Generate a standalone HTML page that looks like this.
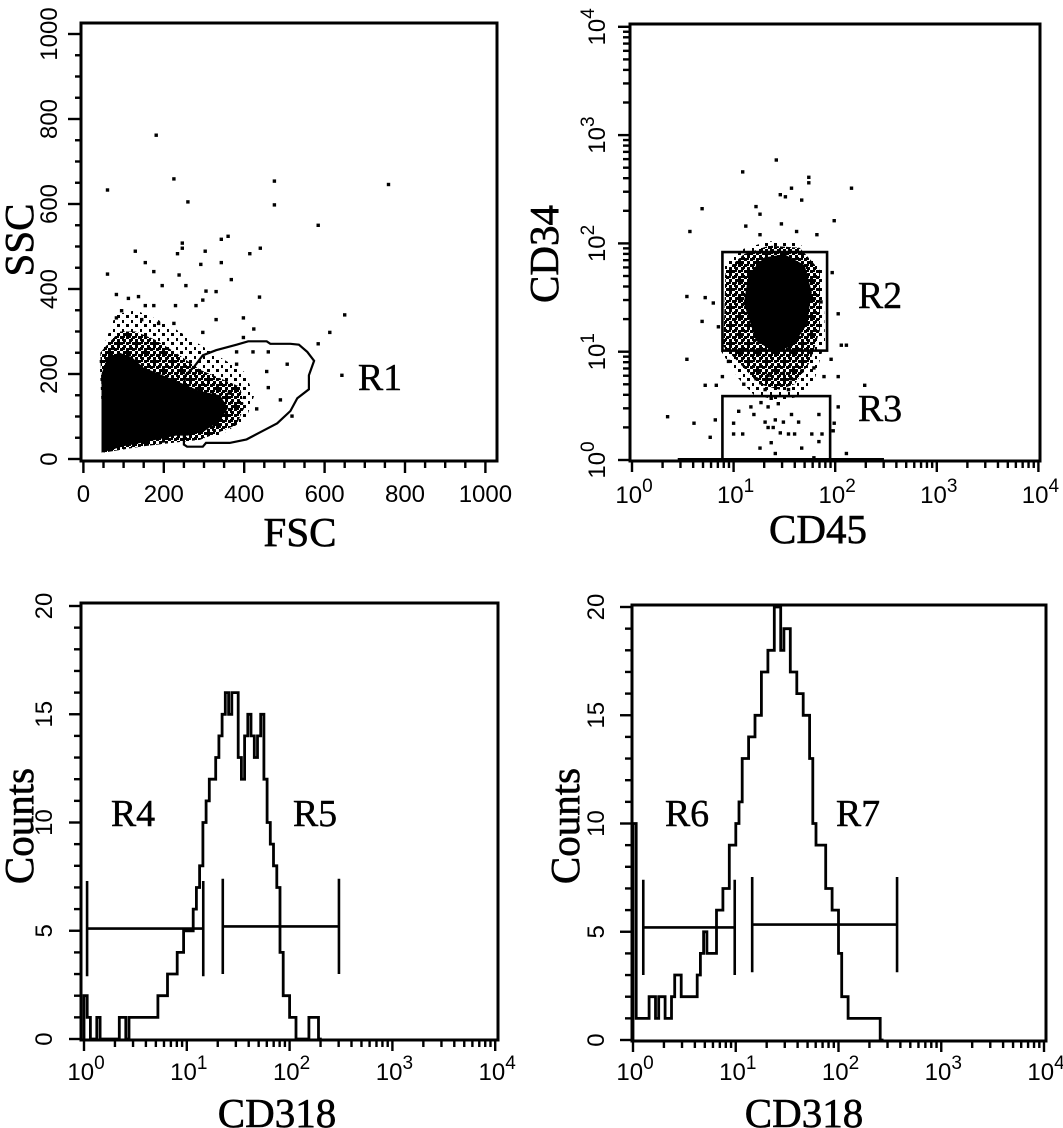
<!DOCTYPE html>
<html><head><meta charset="utf-8"><style>
html,body{margin:0;padding:0;background:#fff;}
svg{display:block;}
.tk{font-family:"Liberation Sans",sans-serif;font-size:24px;fill:#000;}
.ttl{font-family:"Liberation Serif",serif;font-size:41px;fill:#000;stroke:#000;stroke-width:0.6;}
.rl{font-family:"Liberation Serif",serif;font-size:38px;fill:#000;stroke:#000;stroke-width:0.4;}
</style></head><body>
<svg id="fig" width="1063" height="1128" viewBox="0 0 1063 1128" xmlns="http://www.w3.org/2000/svg">
<defs>
<pattern id="halo" width="6" height="6" patternUnits="userSpaceOnUse"><rect x="0" y="0" width="3" height="3" fill="#000"/><rect x="3" y="3" width="3" height="3" fill="#000"/><rect x="3" y="0" width="2" height="2" fill="#000"/></pattern>
<pattern id="sparse" width="9" height="9" patternUnits="userSpaceOnUse"><rect x="0" y="0" width="3" height="3" fill="#000"/><rect x="5" y="5" width="2" height="3" fill="#000"/></pattern>
</defs>
<g id="root"></g>
</svg>
<script>
// ---------- DATA ----------
// Panel A: FSC vs SSC (linear 0-1000)
const p1Outliers = [[181,762],[225,659],[60,633],[260,605],[475,654],[475,598],[759,646],[584,550],[650,339],[613,298],[584,271],[643,197],[60,435],[129,489],[154,462],[175,441],[246,508],[246,496],[234,483],[303,489],[343,517],[360,524],[414,483],[440,496],[438,381],[424,306],[398,332],[368,422],[343,462],[330,394],[305,395],[292,458],[238,433],[255,408],[196,408],[82,387],[112,378],[137,382],[154,361],[175,361],[229,361],[280,361],[297,374],[330,328],[225,319],[297,298],[507,223],[490,139],[519,101],[431,118],[460,168],[456,206],[422,252],[460,252],[398,286],[82,332],[95,349],[145,328],[187,319],[381,252],[381,223],[363,155]];
const p1Core = [[45,15],[100,30],[180,45],[230,55],[260,55],[300,65],[340,90],[360,120],[340,150],[290,160],[240,180],[190,200],[150,215],[120,240],[90,250],[60,240],[45,200]];
const p1Halo = [[42,250],[60,270],[90,300],[130,300],[180,280],[230,250],[290,210],[340,190],[390,170],[400,120],[380,80],[330,60],[290,45],[240,40],[150,30],[50,15]];
const p1Outer = [[40,240],[60,290],[80,340],[130,350],[180,330],[230,305],[280,275],[330,245],[400,205],[425,150],[405,95],[345,58],[290,48],[240,43],[150,33],[50,15]];
const gateR1 = [[250,34],[258,29],[297,29],[305,38],[364,38],[406,46],[440,63],[482,84],[515,113],[532,143],[561,164],[561,197],[574,231],[557,252],[536,269],[515,271],[465,271],[456,277],[410,277],[381,269],[330,256],[297,244],[276,218],[254,197],[246,155],[246,88],[250,55]];
const p1Ticks = [0,200,400,600,800,1000];
// Panel B: CD45 vs CD34 (log decades)
const p2Points = [[1.42,2.77],[1.09,2.66],[1.74,2.61],[1.74,2.56],[1.57,2.51],[1.46,2.45],[1.51,2.43],[2.16,2.51],[0.69,2.32],[1.22,2.34],[1.26,2.27],[1.67,2.4],[1.99,2.21],[0.57,2.11],[1.12,2.16],[1.47,2.18],[1.62,2.11],[1.82,2.08],[1.26,2.08],[0.54,1.51],[0.72,1.5],[0.8,1.45],[0.69,1.28],[0.85,1.23],[1.97,1.73],[1.86,1.46],[2.03,1.35],[2.06,1.06],[2.11,1.06],[0.54,0.93],[1.96,0.93],[2.03,0.77],[1.89,0.77],[2.29,0.69],[0.72,0.69],[0.83,0.69],[0.89,0.77],[0.95,0.91],[1.1,0.7],[1.22,0.75],[1.34,0.78],[1.49,0.8],[1.57,0.75],[1.67,0.82],[1.79,0.85],[1.31,0.65],[1.54,0.65],[0.35,0.4],[0.61,0.34],[0.82,0.37],[0.77,0.21],[2.11,0.06],[2.03,0.49],[1.99,0.34],[1.98,0.27],[1.0,0.34],[1.09,0.24],[1.0,0.24],[1.05,0.45],[1.17,0.49],[1.2,0.42],[1.27,0.53],[1.34,0.49],[1.31,0.35],[1.41,0.37],[1.49,0.35],[1.57,0.42],[1.64,0.35],[1.84,0.42],[1.46,0.25],[1.54,0.24],[1.6,0.24],[1.77,0.24],[1.84,0.17],[1.87,0.24],[1.26,0.11],[1.37,0.16],[1.41,0.06],[1.67,0.11],[1.79,0.02],[1.34,0.3],[1.39,0.3],[1.44,0.52],[1.37,0.57]];
const p2Core = [[1.1,1.45],[1.15,1.72],[1.3,1.87],[1.5,1.9],[1.7,1.8],[1.77,1.55],[1.72,1.25],[1.58,1.05],[1.4,1.0],[1.22,1.1]];
const p2Halo = [[0.9,1.05],[0.92,1.75],[1.1,1.9],[1.35,1.98],[1.65,1.96],[1.85,1.75],[1.85,1.2],[1.75,0.9],[1.6,0.7],[1.45,0.65],[1.25,0.7],[1.1,0.85]];
const p2Outer = [[0.88,1.0],[0.9,1.8],[1.1,1.95],[1.35,2.02],[1.65,2.0],[1.88,1.75],[1.9,1.1],[1.8,0.75],[1.62,0.58],[1.45,0.55],[1.2,0.6],[1.05,0.75]];
const gateR2 = [0.89,1.92,1.01,1.92]; // xmin,xmax,ymin,ymax (decades)
const gateR3 = [0.89,1.95,0,0.59];
const logTicks = [0,1,2,3,4];
// Panel C: CD318 histogram (32 bins per decade)
const hist3 = [2,1,0,0,1,0,0,0,0,0,0,1,1,0,1,1,1,1,1,1,1,1,1,2,2,2,3,3,3,4,4,5,5,5,6,7,8,10,11,12,12,13,14,15,16,15,16,16,13,12,14,15,14,13,14,15,12,10,9,8,7,4,2,2,1,1,0,0,0,0,1,1,1,0];
const gatesC = [[0.03,1.16,5.1],[1.35,2.48,5.2]];
// Panel D: CD318 histogram
const hist4 = [10,1,1,1,1,2,2,1,2,2,1,1,2,3,3,2,2,2,2,2,3,4,5,4,4,4,6,6,7,7,9,9,10,11,13,13,14,14,15,15,17,17,18,18,20,20,18,19,19,17,17,16,16,15,15,13,10,9,9,9,7,7,6,6,4,2,2,1,1,1,1,1,1,1,1,1,1,0];
const gatesD = [[0.1,0.99,5.2],[1.16,2.57,5.33]];
const countTicks = [0,5,10,15,20];

// ---------- DRAW ----------
const NS='http://www.w3.org/2000/svg';
const root=document.getElementById('root');
function mk(tag,attrs,parent){const e=document.createElementNS(NS,tag);for(const k in attrs)e.setAttribute(k,attrs[k]);(parent||root).appendChild(e);return e;}
function grp(name){const g=mk('g',{});


return g;}

const A={bx0:81,bx1:497,by0:23,by1:461,xs:v=>83.4+0.402*v,ys:v=>459-0.425*v};
const B={bx0:630,bx1:1040,by0:24,by1:461,xs:d=>632+101.6*d,ys:d=>460-108.3*d};
const C={bx0:81,bx1:498,by0:603,by1:1040,xs:d=>84+102.8*d,ys:c=>1039-21.65*c};
const D={bx0:632,bx1:1046,by0:605,by1:1041,xs:d=>633+102.75*d,ys:c=>1040-21.65*c};

function frame(P,name){const g=grp(name);
mk('rect',{x:P.bx0,y:P.by0,width:P.bx1-P.bx0,height:P.by1-P.by0,fill:'none',stroke:'#000','stroke-width':3},g);return g;}
function poly(pts,P,fill,g){return mk('polygon',{points:pts.map(p=>P.xs(p[0]).toFixed(1)+','+P.ys(p[1]).toFixed(1)).join(' '),fill:fill,stroke:'none'},g);}
function dots(pts,P,g){pts.forEach(p=>{const r=mk('rect',{x:(P.xs(p[0])-1.7).toFixed(1),y:(P.ys(p[1])-1.7).toFixed(1),width:3.4,height:3.4,fill:'#000'},g);

});}
function rotLabel(txt,x,y,cls,g,name){const t=mk('text',{x:x,y:y,'text-anchor':'middle',transform:`rotate(-90 ${x} ${y})`,class:cls},g);t.textContent=txt;


return t;}
function label(txt,x,y,cls,g,name,anchor){const t=mk('text',{x:x,y:y,'text-anchor':anchor||'middle',class:cls},g);t.textContent=txt;


return t;}
function powLabel(n,x,y,g,rot,name){const t=mk('text',{x:x,y:y,'text-anchor':'middle',class:'tk'},g);
if(rot)t.setAttribute('transform',`rotate(-90 ${x} ${y})`);


const a=mk('tspan',{},t);a.textContent='10';const b=mk('tspan',{dy:-11,'font-size':19},t);b.textContent=String(n);}
function logXTicks(P,y,g){for(let d=0;d<4;d++){for(let m=1;m<10;m++){const x=P.xs(d+Math.log10(m));mk('line',{x1:x,x2:x,y1:y,y2:y+(m==1?11:7),stroke:'#000','stroke-width':2.4},g);}}
const x=P.xs(4);mk('line',{x1:x,x2:x,y1:y,y2:y+11,stroke:'#000','stroke-width':2.4},g);}

// ===== Panel A =====
{const g=frame(A,'fsc-ssc-dotplot');
poly(p1Outer,A,'url(#sparse)',g);
poly(p1Halo,A,'url(#halo)',g);
poly(p1Core,A,'#000',g);
dots(p1Outliers,A,g);
const gate=poly(gateR1,A,'none',g);gate.setAttribute('stroke','#000');gate.setAttribute('stroke-width','2.2');


for(let v=0;v<=1000;v+=50){const y=A.ys(v);mk('line',{x1:v%200==0?68:75,x2:A.bx0,y1:y,y2:y,stroke:'#000','stroke-width':2.4},g);
const x=A.xs(v);mk('line',{x1:x,x2:x,y1:A.by1,y2:A.by1+(v%200==0?12:7),stroke:'#000','stroke-width':2.4},g);}
p1Ticks.forEach(v=>{label(String(v),A.xs(v),502,'tk',g,'x-tick-label');rotLabel(String(v),57,A.ys(v),'tk',g,'y-tick-label');});
label('FSC',300,546,'ttl',g,'x-axis-title');
rotLabel('SSC',33,240,'ttl',g,'y-axis-title');
label('R1',380,390,'rl',g,'gate-label-r1');}

// ===== Panel B =====
{const g=frame(B,'cd45-cd34-dotplot');
poly(p2Outer,B,'url(#sparse)',g);poly(p2Halo,B,'url(#halo)',g);poly(p2Core,B,'#000',g);
dots(p2Points,B,g);
mk('line',{x1:B.xs(0.45),x2:B.xs(2.48),y1:B.by1-1,y2:B.by1-1,stroke:'#000','stroke-width':4},g);
[[gateR2,'gate-r2'],[gateR3,'gate-r3']].forEach(([q,n])=>{const r=mk('rect',{x:B.xs(q[0]),y:B.ys(q[3]),width:B.xs(q[1])-B.xs(q[0]),height:B.ys(q[2])-B.ys(q[3]),fill:'none',stroke:'#000','stroke-width':2.6},g);

});
for(let d=0;d<4;d++)for(let m=1;m<10;m++){const y=B.ys(d+Math.log10(m));mk('line',{x1:B.bx0-(m==1?12:7),x2:B.bx0,y1:y,y2:y,stroke:'#000','stroke-width':2.4},g);}
mk('line',{x1:B.bx0-12,x2:B.bx0,y1:B.ys(4),y2:B.ys(4),stroke:'#000','stroke-width':2.4},g);
logXTicks(B,B.by1,g);
logTicks.forEach(n=>{powLabel(n,B.xs(n)+2,503,g,false,'x-tick-label');powLabel(n,605,B.ys(n),g,true,'y-tick-label');});
label('CD45',818,543,'ttl',g,'x-axis-title');
rotLabel('CD34',558,254,'ttl',g,'y-axis-title');
label('R2',880,308,'rl',g,'gate-label-r2');
label('R3',880,421,'rl',g,'gate-label-r3');}

// ===== Histograms =====
function histPanel(P,hist,gates,names,labelXs,titleX,yLabX,countsX,name){
const g=frame(P,name);
let d='M'+P.xs(0)+','+P.ys(0);
hist.forEach((c,i)=>{d+=' L'+P.xs(i/32).toFixed(1)+','+P.ys(c).toFixed(1)+' L'+P.xs((i+1)/32).toFixed(1)+','+P.ys(c).toFixed(1);});
d+=' L'+P.xs(hist.length/32).toFixed(1)+','+P.ys(0);
const path=mk('path',{d:d,fill:'none',stroke:'#000','stroke-width':2.8},g);


gates.forEach((q,k)=>{const gg=grp('gate-'+names[k].toLowerCase());
const y=P.ys(q[2]);mk('line',{x1:P.xs(q[0]),x2:P.xs(q[1]),y1:y,y2:y,stroke:'#000','stroke-width':2.6},gg);
[q[0],q[1]].forEach(v=>mk('line',{x1:P.xs(v),x2:P.xs(v),y1:P.ys(q[2]+2.2),y2:P.ys(q[2]-2.2),stroke:'#000','stroke-width':2.6},gg));
label(names[k],labelXs[k],826,'rl',g,'gate-label-'+names[k].toLowerCase());});
for(let c=0;c<=20;c++){const y=P.ys(c);mk('line',{x1:P.bx0-(c%5==0?12:7),x2:P.bx0,y1:y,y2:y,stroke:'#000','stroke-width':2.4},g);}
logXTicks(P,P.by1,g);
logTicks.forEach(n=>powLabel(n,P.xs(n)+2,1080,g,false,'x-tick-label'));
countTicks.forEach(c=>rotLabel(String(c),yLabX,P.ys(c),'tk',g,'y-tick-label'));
label('CD318',titleX,1127,'ttl',g,'x-axis-title');
rotLabel('Counts',countsX,826,'ttl',g,'y-axis-title');}
histPanel(C,hist3,gatesC,['R4','R5'],[133,315],277,52,33,'cd318-histogram-left');
histPanel(D,hist4,gatesD,['R6','R7'],[687,858],804,604,579,'cd318-histogram-right');
</script>
</body></html>
